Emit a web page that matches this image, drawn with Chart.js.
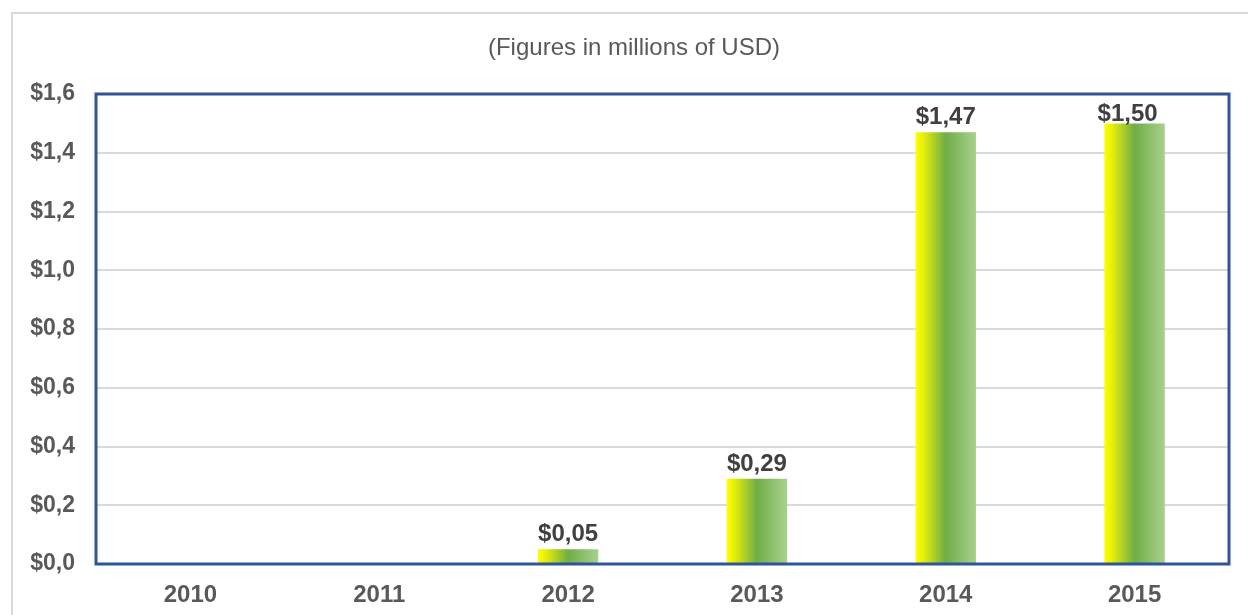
<!DOCTYPE html>
<html>
<head>
<meta charset="utf-8">
<script src="https://cdn.jsdelivr.net/npm/chart.js@4"></script>
<style>
  html, body { margin: 0; padding: 0; background: #ffffff; }
  #wrap { width: 1248px; height: 615px; position: relative; }
</style>
</head>
<body>
<div id="wrap"><canvas id="c" width="1248" height="615"></canvas></div>
<script>
const titleText = '(Figures in millions of USD)';
const categories = ['2010', '2011', '2012', '2013', '2014', '2015'];
const values = [null, null, 0.05, 0.29, 1.47, 1.50];
const valueLabels = ['', '', '$0,05', '$0,29', '$1,47', '$1,50'];
const yTicks = [0, 0.2, 0.4, 0.6, 0.8, 1.0, 1.2, 1.4, 1.6];

const FONT = '"Liberation Sans", Arial, sans-serif';
const BAR_PCT = 0.32;

function barGradient(context) {
  const chart = context.chart;
  const a = chart.chartArea;
  const xs = chart.scales.x;
  if (!a || !xs || context.dataIndex === undefined) return '#70AD47';
  const cx = xs.getPixelForValue(context.dataIndex);
  const w = (a.right - a.left) / categories.length * BAR_PCT;
  const x0 = cx - w / 2;
  const g = chart.ctx.createLinearGradient(x0, 0, x0 + w, 0);
  g.addColorStop(0, '#FFFF00');
  g.addColorStop(0.12, '#E8F00A');
  g.addColorStop(0.5, '#70AD47');
  g.addColorStop(1, '#A9D18E');
  return g;
}

const frame = {
  id: 'frame',
  beforeDraw(chart) {
    const ctx = chart.ctx;
    ctx.save();
    ctx.strokeStyle = '#D9D9D9';
    ctx.lineWidth = 2;
    ctx.strokeRect(12, 13, 1400, 800);
    // chart title, centred over the outer frame
    ctx.fillStyle = '#595959';
    ctx.font = '24px ' + FONT;
    ctx.textAlign = 'center';
    ctx.textBaseline = 'middle';
    ctx.fillText(titleText, 634, 48);
    ctx.restore();
  },
  afterDatasetsDraw(chart) {
    const ctx = chart.ctx;
    const a = chart.chartArea;
    ctx.save();
    ctx.strokeStyle = '#2F5597';
    ctx.lineWidth = 3;
    ctx.strokeRect(a.left, a.top, a.right - a.left, a.bottom - a.top);
    const meta = chart.getDatasetMeta(0);
    ctx.fillStyle = '#404040';
    ctx.font = 'bold 24px ' + FONT;
    ctx.textAlign = 'center';
    ctx.textBaseline = 'alphabetic';
    meta.data.forEach((el, i) => {
      if (values[i] === null || !valueLabels[i]) return;
      const clamp = a.top + 27;
      const y = Math.max(el.y - 8, clamp);
      const shift = (el.y - 8 < clamp) ? -7 : 0;
      ctx.fillText(valueLabels[i], el.x + shift, y);
    });
    ctx.restore();
  }
};

new Chart(document.getElementById('c'), {
  type: 'bar',
  data: {
    labels: categories,
    datasets: [{
      data: values,
      backgroundColor: barGradient,
      borderWidth: 0,
      categoryPercentage: 1.0,
      barPercentage: BAR_PCT
    }]
  },
  options: {
    responsive: false,
    animation: false,
    layout: { padding: { top: 94, right: 19, bottom: 0, left: 0 } },
    plugins: {
      legend: { display: false },
      tooltip: { enabled: false },
      title: { display: false }
    },
    scales: {
      x: {
        grid: { display: false, drawTicks: false },
        border: { display: false },
        ticks: {
          color: '#595959',
          font: { family: FONT, size: 24, weight: 'bold' },
          padding: 17
        },
        afterFit(scale) { scale.height = 51; }
      },
      y: {
        min: 0,
        max: 1.6,
        afterBuildTicks(scale) { scale.ticks = yTicks.map(v => ({ value: v })); },
        grid: { color: '#D9D9D9', lineWidth: 2, drawTicks: false },
        border: { display: false },
        ticks: {
          color: '#595959',
          font: { family: FONT, size: 23, weight: 'bold' },
          padding: 21,
          callback: v => '$' + Number(v).toFixed(1).replace('.', ',')
        },
        afterFit(scale) { scale.width = 96; }
      }
    }
  },
  plugins: [frame]
});
</script>
</body>
</html>
